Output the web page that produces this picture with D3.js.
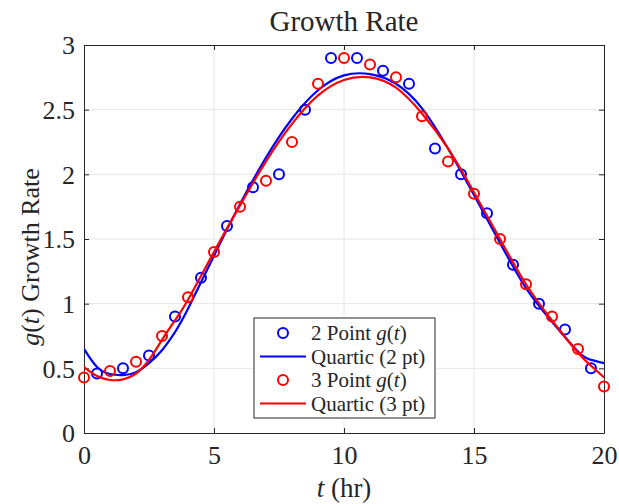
<!DOCTYPE html>
<html>
<head>
<meta charset="utf-8">
<script src="https://cdn.jsdelivr.net/npm/d3@7"></script>
<style>
  body { margin: 0; background: #fff; }
  text { font-family: "Liberation Serif", "DejaVu Serif", serif; fill: #262626; }
</style>
</head>
<body>
<script>
// measured points (t in hours)
var t2pt = [0.5,1.5,2.5,3.5,4.5,5.5,6.5,7.5,8.5,9.5,10.5,11.5,12.5,13.5,14.5,15.5,16.5,17.5,18.5,19.5];
var g2pt = [0.46,0.5,0.6,0.9,1.2,1.6,1.9,2.0,2.5,2.9,2.9,2.8,2.7,2.2,2.0,1.7,1.3,1.0,0.8,0.5];
var t3pt = [0,1,2,3,4,5,6,7,8,9,10,11,12,13,14,15,16,17,18,19,20];
var g3pt = [0.43,0.48,0.55,0.75,1.05,1.4,1.75,1.95,2.25,2.7,2.9,2.85,2.75,2.45,2.1,1.85,1.5,1.15,0.9,0.65,0.36];

// quartic fit curves
var tFit = [0,0.5,1,1.5,2,2.5,3,3.5,4,5,6,7,8,9,10,11,12,13,14,15,16,17,18,19,19.5,20];
var fit2pt = [0.65,0.51,0.456,0.448,0.47,0.54,0.64,0.78,0.96,1.37,1.77,2.13,2.43,2.65,2.765,2.775,2.70,2.51,2.20,1.84,1.47,1.12,0.86,0.63,0.565,0.54];
var fit3pt = [0.51,0.44,0.41,0.415,0.46,0.565,0.72,0.87,1.03,1.40,1.76,2.10,2.39,2.61,2.73,2.75,2.67,2.47,2.20,1.86,1.50,1.15,0.87,0.62,0.52,0.43];

var xTicks = [0,5,10,15,20];
var yTicks = [0,0.5,1,1.5,2,2.5,3];
var legendItems = [
  {kind:"dot", color:"#0000ff", label:"2 Point ", math:"g(t)"},
  {kind:"line", color:"#0000ff", label:"Quartic (2 pt)"},
  {kind:"dot", color:"#ff0000", label:"3 Point ", math:"g(t)"},
  {kind:"line", color:"#ff0000", label:"Quartic (3 pt)"}
];

var W = 619, H = 504;
var pL = 84, pR = 604, pT = 45, pB = 433;

var svg = d3.select("body").append("svg")
  .attr("width", W)
  .attr("height", H);

var x = d3.scaleLinear().domain([0,20]).range([pL,pR]);
var y = d3.scaleLinear().domain([0,3]).range([pB,pT]);

// grid
svg.append("g").selectAll("line")
  .data(xTicks.slice(1,-1))
  .enter().append("line")
  .attr("x1", function(d){return x(d);}).attr("x2", function(d){return x(d);})
  .attr("y1", pT).attr("y2", pB)
  .style("stroke", "#e6e6e6").style("stroke-width", 1);
svg.append("g").selectAll("line")
  .data(yTicks.slice(1,-1))
  .enter().append("line")
  .attr("y1", function(d){return y(d);}).attr("y2", function(d){return y(d);})
  .attr("x1", pL).attr("x2", pR)
  .style("stroke", "#e6e6e6").style("stroke-width", 1);

// axes, ticks point inward on all four sides
var axisB = svg.append("g").attr("transform", "translate(0,"+pB+")")
  .call(d3.axisBottom(x).tickValues(xTicks).tickSizeInner(-5).tickSizeOuter(0).tickPadding(13));
var axisT = svg.append("g").attr("transform", "translate(0,"+pT+")")
  .call(d3.axisTop(x).tickValues(xTicks).tickSizeInner(-5).tickSizeOuter(0).tickFormat(""));
var axisL = svg.append("g").attr("transform", "translate("+pL+",0)")
  .call(d3.axisLeft(y).tickValues(yTicks).tickSizeInner(-5).tickSizeOuter(0).tickPadding(9).tickFormat(d3.format("")));
var axisR = svg.append("g").attr("transform", "translate("+pR+",0)")
  .call(d3.axisRight(y).tickValues(yTicks).tickSizeInner(-5).tickSizeOuter(0).tickFormat(""));

[axisB, axisT, axisL, axisR].forEach(function(a){
  a.selectAll("path").style("stroke", "#262626").style("stroke-width", 1);
  a.selectAll("line").style("stroke", "#262626").style("stroke-width", 1);
  a.selectAll("text")
    .style("font-family", "'Liberation Serif', serif")
    .style("font-size", "26px")
    .style("fill", "#262626");
});
axisB.selectAll("text").attr("dy", "0.71em");
axisL.selectAll("text").attr("dy", "0.34em");

// data
svg.append("clipPath").attr("id", "clip")
  .append("rect").attr("x", pL).attr("y", pT).attr("width", pR-pL).attr("height", pB-pT);

var line = d3.line()
  .x(function(d){return x(d[0]);})
  .y(function(d){return y(d[1]);})
  .curve(d3.curveNatural);

function dots(ts, gs, color){
  svg.append("g").selectAll("circle")
    .data(d3.zip(ts, gs))
    .enter().append("circle")
    .attr("cx", function(d){return x(d[0]);})
    .attr("cy", function(d){return y(d[1]);})
    .attr("r", 5)
    .style("fill", "none")
    .style("stroke", color)
    .style("stroke-width", 2);
}
function fitLine(vals, color){
  svg.append("path")
    .datum(d3.zip(tFit, vals))
    .attr("d", line)
    .attr("clip-path", "url(#clip)")
    .style("fill", "none")
    .style("stroke", color)
    .style("stroke-width", 2.2);
}
dots(t2pt, g2pt, "#0000ff");
fitLine(fit2pt, "#0000ff");
dots(t3pt, g3pt, "#ff0000");
fitLine(fit3pt, "#ff0000");

// title and labels
svg.append("text")
  .attr("x", (pL+pR)/2).attr("y", 31)
  .attr("text-anchor", "middle")
  .style("font-size", "29px")
  .text("Growth Rate");

var xl = svg.append("text")
  .attr("x", (pL+pR)/2).attr("y", 497)
  .attr("text-anchor", "middle")
  .style("font-size", "27px");
xl.append("tspan").style("font-style", "italic").text("t");
xl.append("tspan").text(" (hr)");

var yl = svg.append("text")
  .attr("transform", "translate(39,257) rotate(-90)")
  .attr("text-anchor", "middle")
  .style("font-size", "26px");
yl.append("tspan").style("font-style", "italic").text("g");
yl.append("tspan").text("(");
yl.append("tspan").style("font-style", "italic").text("t");
yl.append("tspan").text(")  Growth Rate");

// legend
var lg = svg.append("g").attr("transform", "translate(254,318)");
lg.append("rect")
  .attr("width", 181).attr("height", 100)
  .style("fill", "#fff")
  .style("stroke", "#262626")
  .style("stroke-width", 1);

var rows = lg.selectAll("g.row")
  .data(legendItems)
  .enter().append("g")
  .attr("class", "row")
  .attr("transform", function(d, i){return "translate(0,"+(15 + i*23.5)+")";});

rows.filter(function(d){return d.kind == "dot";}).append("circle")
  .attr("cx", 29).attr("cy", 0).attr("r", 5)
  .style("fill", "none")
  .style("stroke", function(d){return d.color;})
  .style("stroke-width", 2);
rows.filter(function(d){return d.kind == "line";}).append("line")
  .attr("x1", 6).attr("x2", 52).attr("y1", 0).attr("y2", 0)
  .style("stroke", function(d){return d.color;})
  .style("stroke-width", 2.2);

var lt = rows.append("text")
  .attr("x", 57).attr("y", 0).attr("dy", "0.35em")
  .style("font-size", "21px");
lt.append("tspan").text(function(d){return d.label;});
lt.filter(function(d){return d.math;}).each(function(d){
  var t = d3.select(this);
  t.append("tspan").style("font-style", "italic").text("g");
  t.append("tspan").text("(");
  t.append("tspan").style("font-style", "italic").text("t");
  t.append("tspan").text(")");
});
</script>
</body>
</html>
